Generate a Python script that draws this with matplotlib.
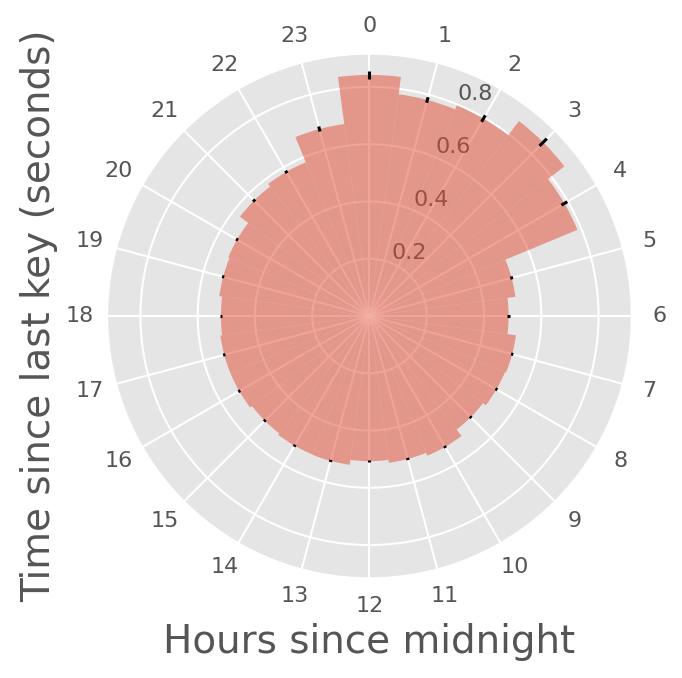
import numpy as np
import matplotlib
matplotlib.use("Agg")
import matplotlib.pyplot as plt

plt.style.use("ggplot")

hours = list(range(24))
hour_labels = [str(h) for h in hours]
mean_times = [0.842, 0.781, 0.796, 0.858, 0.786, 0.514, 0.486, 0.516,
              0.512, 0.500, 0.528, 0.517, 0.507, 0.524, 0.523, 0.517,
              0.525, 0.525, 0.519, 0.529, 0.534, 0.570, 0.581, 0.676]
errors = [0.013, 0.010, 0.013, 0.018, 0.012, 0.005, 0.004, 0.004,
          0.004, 0.004, 0.004, 0.004, 0.004, 0.004, 0.004, 0.004,
          0.004, 0.004, 0.004, 0.004, 0.004, 0.005, 0.005, 0.009]
r_ticks = [0.2, 0.4, 0.6, 0.8]

fig = plt.figure(figsize=(6.82, 6.78), dpi=100)
ax = fig.add_axes([0.1576, 0.1475, 0.7683, 0.7729], polar=True)
ax.set_theta_offset(np.pi / 2)
ax.set_theta_direction(-1)

theta = np.array(hours) * 2 * np.pi / 24
width = 2 * np.pi / 24
ax.bar(theta, mean_times, width=width, color="#E24A33", alpha=0.5)
ax.errorbar(theta, mean_times, yerr=errors, fmt="none", ecolor="k",
            elinewidth=2.2, capsize=0)

ax.set_xticks(theta)
ax.set_xticklabels(hour_labels)
ax.set_yticks(r_ticks)
ax.set_yticklabels([f"{v:.1f}" for v in r_ticks])
ax.set_ylim(0, 0.915)
ax.grid(True, color="white", linewidth=1.5)
ax.tick_params(axis="x", labelsize=16, length=0, pad=13, colors="#555555")
ax.tick_params(axis="y", labelsize=16, colors="#555555")

ax.set_xlabel("Hours since midnight", fontsize=28, color="#555555")
ax.set_ylabel("Time since last key (seconds)", fontsize=28, color="#555555")
ax.xaxis.set_label_coords(0.5, -0.1437)
ax.xaxis.label.set_va("baseline")
ax.yaxis.set_label_coords(-0.1097, 0.5)
ax.yaxis.label.set_va("baseline")

fig.savefig("out.png", dpi=100)
